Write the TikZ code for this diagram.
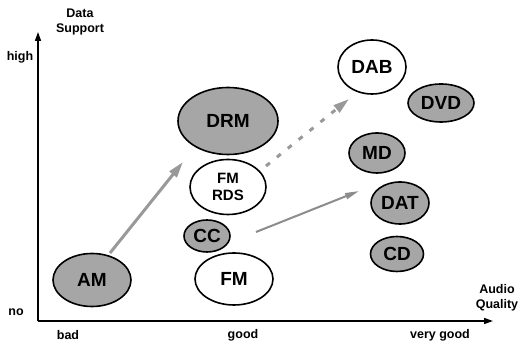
\documentclass[tikz,border=0pt]{standalone}
\usepackage{fontspec}
\setmainfont{Liberation Sans}
\usetikzlibrary{arrows.meta,shapes.geometric}
\tikzset{
  oval/.style={ellipse, draw=black, line width=1.6pt, inner sep=0pt, font=\bfseries\fontsize{19}{21}\selectfont},
  shaded/.style={oval, fill=black!35},
  plain/.style={oval, fill=white},
  axis/.style={line width=1.6pt, -{Triangle[length=9pt,width=6pt]}},
  lbl/.style={font=\bfseries\fontsize{12.5}{15}\selectfont, align=center, inner sep=0pt},
  trend/.style={draw=black!40, line width=3pt, -{Triangle[length=16pt,width=9pt]}},
  trendthin/.style={draw=black!45, line width=2pt, -{Triangle[length=14pt,width=6pt]}},
}
\begin{document}
\begin{tikzpicture}[x=1pt,y=1pt]
\useasboundingbox (0,0) rectangle (521,344);
% axes
\coordinate (O) at (38,23);
\coordinate (ytop) at (38,312);
\coordinate (xend) at (493,23);
\draw[axis] (O) -- (ytop);
\draw[axis] (O) -- (xend);
% axis labels
\node[lbl] (ds) at (80,322) {Data\\Support};
\node[lbl] (high) at (20,287) {high};
\node[lbl] (no) at (16,32) {no};
\node[lbl] (bad) at (68,9) {bad};
\node[lbl] (good) at (243,9) {good};
\node[lbl] (vgood) at (440,9) {very good};
\node[lbl] (aq) at (497,46) {Audio\\Quality};
% ellipses
\node[shaded, minimum width=100, minimum height=67] (DRM) at (228,223) {DRM};
\node[plain, minimum width=76, minimum height=55, align=center, font=\bfseries\fontsize{15}{17}\selectfont] (FMRDS) at (228,157) {FM\\RDS};
\node[shaded, minimum width=46, minimum height=32] (CC) at (207,108) {CC};
\node[plain, minimum width=78, minimum height=52] (FM) at (234,65) {FM};
\node[shaded, minimum width=78, minimum height=53] (AM) at (92,64) {AM};
\node[plain, minimum width=68, minimum height=54] (DAB) at (372,277) {DAB};
\node[shaded, minimum width=66, minimum height=38] (DVD) at (441,241) {DVD};
\node[shaded, minimum width=56, minimum height=40] (MD) at (377,191) {MD};
\node[shaded, minimum width=58, minimum height=42] (DAT) at (400,141) {DAT};
\node[shaded, minimum width=53, minimum height=35] (CD) at (397,90) {CD};
% trend arrows
\coordinate (a1s) at (110,91);
\coordinate (a1e) at (183,182);
\coordinate (a2s) at (266,178);
\coordinate (a2e) at (349,245);
\coordinate (a3s) at (256,112);
\coordinate (a3e) at (359,153);
\draw[trend] (a1s) -- (a1e);
\draw[trend, dash pattern=on 5pt off 9pt] (a2s) -- (a2e);
\draw[trendthin] (a3s) -- (a3e);
\end{tikzpicture}
\end{document}
